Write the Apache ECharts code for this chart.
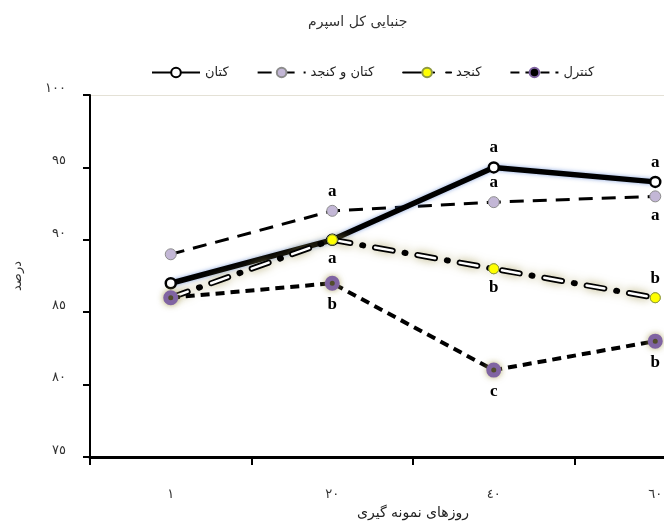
<!DOCTYPE html>
<html><head><meta charset="utf-8">
<script src="https://cdn.jsdelivr.net/npm/echarts@6/dist/echarts.min.js"></script>
<style>html,body{margin:0;padding:0;background:#fff;overflow:hidden;width:664px;height:525px}#c{width:736px;height:525px}</style>
</head><body><div id="c"></div>
<script>
const titleText = 'جنبایی کل اسپرم';
const xName = 'روزهای نمونه گیری';
const yName = 'درصد';
const categories = ['١', '٢٠', '٤٠', '٦٠'];
const yTickValues = [75, 80, 85, 90, 95, 100];
const yTickLabels = ['٧٥', '٨٠', '٨٥', '٩٠', '٩٥', '١٠٠'];
const seriesNames = ['کتان', 'کتان و کنجد', 'کنجد', 'کنترل'];
const katan = [87, 90, 95, 94];
const katanKonjed = [89, 92, 92.6, 93];
const konjed = [86, 90, 88, 86];
const control = [86, 87, 81, 83];
const katanLetters = ['', '', 'a', 'a'];
const katanKonjedLetters = ['', 'a', 'a', 'a'];
const konjedLetters = ['', 'a', 'b', 'b'];
const controlLetters = ['', 'b', 'c', 'b'];

// label placement (style)
const sides = {
  katan: ['top', 'top', 'top', 'top'],
  katanKonjed: ['top', 'top', 'top', 'bottom'],
  konjed: ['bottom', 'bottom', 'bottom', 'top'],
  control: ['bottom', 'bottom', 'bottom', 'bottom']
};
const ARFONT = '"DejaVu Sans", sans-serif';
const letterStyle = { fontFamily: '"Liberation Serif", serif', fontWeight: 'bold', fontSize: 17, color: '#000', distance: 5 };

function mk(values, letters, side) {
  return values.map((v, i) => ({
    value: v,
    label: letters[i] ? Object.assign({ show: true, position: side[i], formatter: letters[i] }, letterStyle) : { show: false }
  }));
}

const chart = echarts.init(document.getElementById('c'), null, { renderer: 'canvas' });
chart.setOption({
  animation: false,
  backgroundColor: '#fff',
  title: {
    text: titleText, left: 303, top: 10,
    textStyle: { fontFamily: ARFONT, fontSize: 14, fontWeight: 'normal', color: '#333' }
  },
  legend: {
    data: seriesNames, left: 146, top: 61, itemGap: 28, itemWidth: 48, itemHeight: 12,
    textStyle: { fontFamily: ARFONT, fontSize: 13, color: '#222' }
  },
  grid: { left: 90, top: 95, width: 646, height: 362 },
  xAxis: {
    type: 'category', data: categories, boundaryGap: true,
    axisLine: { lineStyle: { color: '#000', width: 3 } },
    axisTick: { show: true, length: 8, lineStyle: { color: '#000', width: 2 } },
    axisLabel: { margin: 31, color: '#333', fontFamily: ARFONT, fontSize: 13 },
    name: xName, nameLocation: 'middle', nameGap: 48,
    nameTextStyle: { fontFamily: ARFONT, fontSize: 14, color: '#222' }
  },
  yAxis: {
    type: 'value', min: 75, max: 100, interval: 5,
    axisLine: { show: true, lineStyle: { color: '#000', width: 2 } },
    axisTick: { show: true, length: 7, lineStyle: { color: '#000', width: 2 } },
    axisLabel: { margin: 24, color: '#333', fontFamily: ARFONT, fontSize: 13, verticalAlign: 'bottom',
      formatter: v => yTickLabels[yTickValues.indexOf(v)] },
    splitLine: { show: true, lineStyle: { width: 1, color: ['rgba(0,0,0,0)', 'rgba(0,0,0,0)', 'rgba(0,0,0,0)', 'rgba(0,0,0,0)', 'rgba(0,0,0,0)', '#e4e1d6'] } },
    name: yName, nameLocation: 'middle', nameGap: 66, nameRotate: 90,
    nameTextStyle: { fontFamily: ARFONT, fontSize: 13, color: '#333' }
  },
  series: [
    {
      name: seriesNames[1], type: 'line', data: mk(katanKonjed, katanKonjedLetters, sides.katanKonjed),
      lineStyle: { color: '#000', width: 3, type: [14, 9] },
      symbol: 'circle', symbolSize: 11,
      itemStyle: { color: '#c3b7d6', borderColor: '#8d8d8d', borderWidth: 1 }
    },
    {
      name: seriesNames[0], type: 'line', data: mk(katan, katanLetters, sides.katan),
      lineStyle: { color: '#000', width: 5.5, shadowColor: 'rgba(90,130,210,0.7)', shadowBlur: 4 },
      symbol: 'circle', symbolSize: 10,
      itemStyle: { color: '#fff', borderColor: '#000', borderWidth: 2.5 }
    },
    {
      name: seriesNames[2], type: 'line', data: konjed,
      lineStyle: { color: '#000', width: 6, type: [18, 12, 1, 12], cap: 'round', shadowColor: 'rgba(160,150,80,0.75)', shadowBlur: 10 },
      symbol: 'circle', symbolSize: 10,
      itemStyle: { color: '#ffff00', borderColor: '#8f9a40', borderWidth: 1 }
    },
    {
      name: 'konjed-inner', type: 'line', data: konjed, silent: true,
      lineStyle: { color: '#fff', width: 2.5, type: [18, 25], cap: 'round' },
      symbol: 'none'
    },
    {
      name: 'konjed-marks', type: 'line', data: mk(konjed, konjedLetters, sides.konjed), silent: true,
      lineStyle: { width: 0, opacity: 0 },
      symbol: 'circle', symbolSize: 10,
      itemStyle: { color: '#ffff00', borderColor: '#8f9a40', borderWidth: 1 }
    },
    {
      name: seriesNames[3], type: 'line', data: mk(control, controlLetters, sides.control),
      lineStyle: { color: '#000', width: 4, type: [9, 6] },
      symbol: 'circle', symbolSize: 10,
      itemStyle: { color: '#000', borderColor: '#8064a2', borderWidth: 5, shadowColor: 'rgba(170,160,90,0.7)', shadowBlur: 6 }
    }
  ]
});
</script></body></html>
